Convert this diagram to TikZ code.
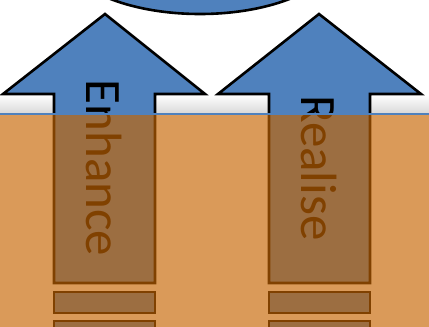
\documentclass[tikz,border=0pt]{standalone}
\usepackage{fontspec}
\setmainfont{Carlito}
\usetikzlibrary{calc}
\definecolor{offblue}{RGB}{79,129,189}
\definecolor{soil}{RGB}{198,100,0}
\definecolor{haze}{RGB}{215,215,215}

\begin{document}
\begin{tikzpicture}[x=1pt, y=-1pt,
    uparrow/.style={draw=black, line width=2.6pt, fill=offblue, line join=miter},
    shafttext/.style={rotate=-90, inner sep=0pt, font=\fontsize{51}{51}\selectfont}]
  \useasboundingbox (0,0) rectangle (429,327);
  \clip (0,0) rectangle (429,327);

  % shadow band above the ground
  \shade[top color=white, bottom color=haze] (0,95) rectangle (429,114);

  % circle on top
  \draw[uparrow] (200,-51) ellipse [x radius=140, y radius=65];

  % Enhance arrow
  \draw[uparrow] (105,14) -- (205,94) -- (155,94) -- (155,283) -- (54,283) -- (54,94) -- (3,94) -- cycle;
  \draw[uparrow] (54,292) rectangle (155,313);
  \draw[uparrow] (54,321) rectangle (155,345);
  \node[shafttext] (enhance) at (104.5,168) {Enhance};

  % Realise arrow
  \draw[uparrow] (319,14) -- (421,94) -- (370,94) -- (370,283) -- (269,283) -- (269,94) -- (218,94) -- cycle;
  \draw[uparrow] (269,292) rectangle (370,313);
  \draw[uparrow] (269,321) rectangle (370,345);
  \node[shafttext] (realise) at (319.5,168) {Realise};

  % ground
  \fill[soil, opacity=0.65] (0,114) rectangle (429,327);
  \draw[offblue, line width=2pt] (0,114) -- (429,114);
\end{tikzpicture}
\end{document}
